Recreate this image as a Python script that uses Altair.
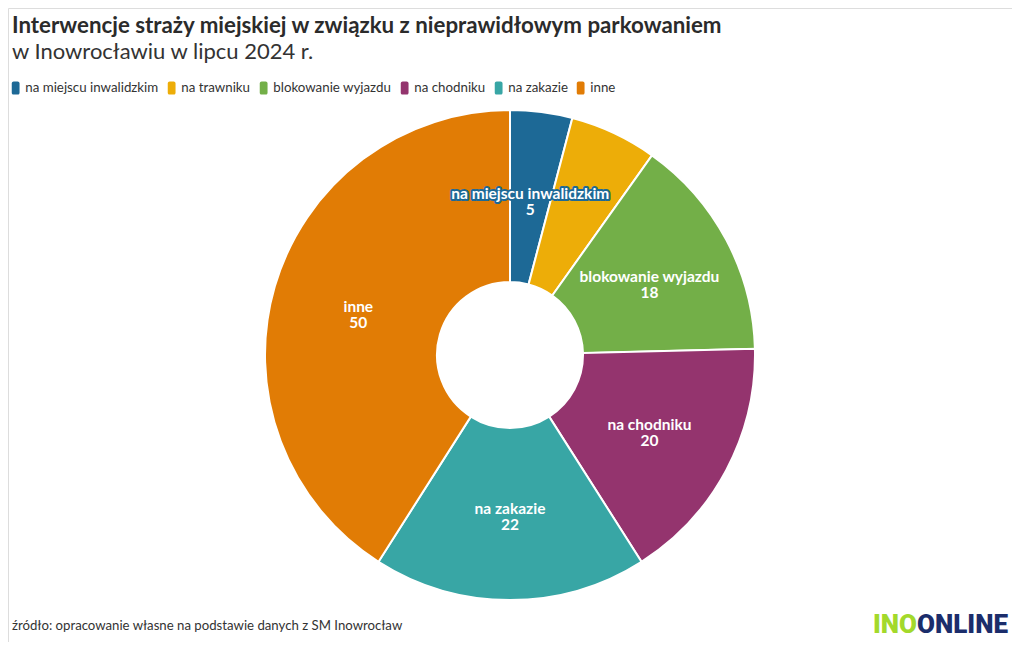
import altair as alt
import pandas as pd

categories = ["na miejscu inwalidzkim", "na trawniku", "blokowanie wyjazdu",
              "na chodniku", "na zakazie", "inne"]
values = [5, 7, 18, 20, 22, 50]
colors = ["#1D6996", "#EDAD08", "#73AF48", "#94346E", "#38A6A5", "#E17C05"]
hidden_labels = ["na trawniku"]

title = "Interwencje straży miejskiej w związku z nieprawidłowym parkowaniem"
subtitle = "w Inowrocławiu w lipcu 2024 r."
source = "źródło: opracowanie własne na podstawie danych z SM Inowrocław"

FONT = "Lato"
CX, CY = 502, 347

df = pd.DataFrame({"category": categories, "value": values,
                   "idx": list(range(len(categories)))})
df["label"] = df["category"] + "\n" + df["value"].astype(str)

cscale = alt.Scale(domain=categories, range=colors)
rr = ("M-0.3,-1H0.3A0.3,0.3 0 0 1 0.6,-0.7V0.7A0.3,0.3 0 0 1 0.3,1"
      "H-0.3A0.3,0.3 0 0 1 -0.6,0.7V-0.7A0.3,0.3 0 0 1 -0.3,-1Z")

base = alt.Chart(df)
theta = alt.Theta("value:Q", stack=True)
order = alt.Order("idx:Q")

arc = base.mark_arc(outerRadius=245, innerRadius=73, stroke="white", strokeWidth=2).encode(
    theta=theta, order=order,
    x=alt.value(CX), y=alt.value(CY),
    color=alt.Color("category:N", scale=cscale, sort=categories,
                    legend=alt.Legend(title=None, orient="none", legendX=1, legendY=73,
                                      direction="horizontal", columns=6,
                                      symbolType=rr, symbolSize=169,
                                      symbolStrokeWidth=0, symbolOpacity=1,
                                      labelFont=FONT, labelFontSize=13.3, labelColor="#333333",
                                      labelOffset=3, columnPadding=6)),
)

show = alt.condition(alt.FieldOneOfPredicate(field="category", oneOf=hidden_labels),
                     alt.value(0), alt.value(1))

halo = base.mark_text(radius=158, dy=-4, font=FONT, fontSize=15.5, fontWeight="bold",
                      lineBreak="\n", lineHeight=16, strokeWidth=4, strokeJoin="round",
                      fill=None).encode(
    theta=theta, order=order, x=alt.value(CX), y=alt.value(CY),
    text="label:N",
    stroke=alt.Stroke("category:N", scale=cscale, legend=None),
    opacity=show,
)

labels = base.mark_text(radius=158, dy=-4, font=FONT, fontSize=15.5, fontWeight="bold",
                        lineBreak="\n", lineHeight=16, color="white").encode(
    theta=theta, order=order, x=alt.value(CX), y=alt.value(CY),
    text="label:N",
    opacity=show,
)


def txt(s, x, y, **kw):
    return alt.Chart(pd.DataFrame({"t": [s]})).mark_text(
        align=kw.pop("align", "left"), baseline="alphabetic", font=kw.pop("font", FONT), **kw
    ).encode(text="t:N", x=alt.value(x), y=alt.value(y))


t1 = txt(title, 4, 25, fontSize=22.3, fontWeight="bold", color="#2b2b2b")
t2 = txt(subtitle, 4, 51, fontSize=22, color="#333333")
t3 = txt(source, 4, 622, fontSize=13.2, color="#333333")
logo1 = txt("INO", 909, 625, align="right", fontSize=26, fontWeight=900,
            color="#A3D92B", font="Roboto")
logo2 = txt("ONLINE", 909, 625, fontSize=26, fontWeight=900, color="#1B2D6B", font="Roboto")

chart = alt.layer(arc, halo, labels, t1, t2, t3, logo1, logo2).properties(
    width=1004, height=634,
    autosize=alt.AutoSizeParams(type="none"),
    padding=0,
).configure_view(stroke=None).configure(background="white")

chart.save("out.html", embed_options={"renderer": "svg", "actions": False})
